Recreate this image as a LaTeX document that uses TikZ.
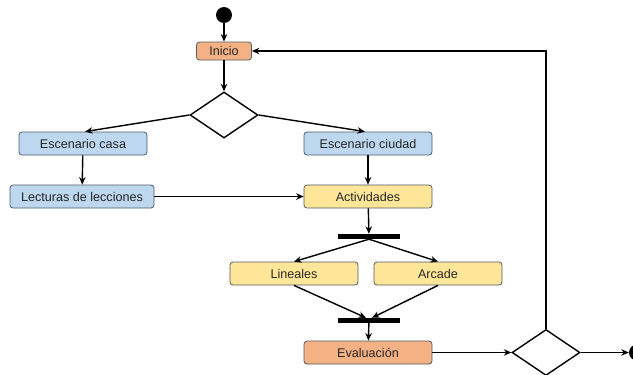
\documentclass[tikz,border=0pt]{standalone}
\usepackage{fontspec}
\setmainfont{Liberation Sans}
\usetikzlibrary{positioning,arrows.meta,shapes.geometric,calc}
\definecolor{azul}{HTML}{BDD7EE}
\definecolor{amarillo}{HTML}{FFE699}
\definecolor{naranja}{HTML}{F4B183}
\definecolor{borde}{HTML}{4F5B66}
\definecolor{texto}{HTML}{262626}

\begin{document}
\begin{tikzpicture}[
			x=1pt, y=-1pt,
			>={Stealth[length=7.5pt,width=6.5pt]},
			caja/.style={rectangle, rounded corners=3pt, draw=borde, line width=0.8pt, minimum width=128pt, minimum height=23pt, text=texto, font=\fontsize{12.6}{14}\selectfont},
			casa/.style={caja, fill=azul},
			act/.style={caja, fill=amarillo},
			eval/.style={caja, fill=naranja},
			decision/.style={diamond, draw, line width=1.4pt, minimum width=68pt, minimum height=46pt, inner sep=0pt},
			barra/.style={rectangle, fill=black, minimum width=62pt, minimum height=5pt, inner sep=0pt},
			punto/.style={circle, fill=black, minimum size=16pt, inner sep=0pt},
			flecha/.style={->, line width=1.4pt}
		]
		\useasboundingbox (0,0) rectangle (633,375);
		% Nodes
		\node[punto] (inicio0) at (224,15) {};
		\node[eval, minimum width=55pt, minimum height=18pt] (inicio) at (224,51) {Inicio};
		\node[decision] (d1) at (224,115) {};
		\node[casa] (casa) at (83,143.5) {Escenario casa};
		\node[casa] (ciudad) at (368,143.5) {Escenario ciudad};
		\node[casa, minimum width=144pt] (lecturas) at (82,196.5) {Lecturas de lecciones};
		\node[act] (actividades) at (368,196.5) {Actividades};
		\node[barra] (b1) at (369,236.5) {};
		\node[act] (lineales) at (294,273.5) {Lineales};
		\node[act] (arcade) at (438,273.5) {Arcade};
		\node[barra] (b2) at (369,320.5) {};
		\node[eval] (evaluacion) at (368,352.5) {Evaluación};
		\node[decision] (d2) at (546,352.5) {};
		\node[punto] (fin) at (637,352.5) {};

		% Arrows
		\draw[flecha] (inicio0) -- (inicio);
		\draw[flecha] (inicio) -- (d1);
		\draw[flecha] (d1.west) -- ([xshift=2pt]casa.north);
		\draw[flecha] (d1.east) -- ([xshift=-3pt]ciudad.north);
		\draw[flecha] (casa) -- (lecturas);
		\draw[flecha] (ciudad) -- (actividades);
		\draw[flecha] (lecturas) -- (actividades);
		\draw[flecha] (actividades) -- (b1);
		\draw[flecha] (b1.south) -- (lineales.north);
		\draw[flecha] (b1.south) -- (arcade.north);
		\draw[flecha] (lineales.south) -- ([xshift=-3pt]b2.north);
		\draw[flecha] (arcade.south) -- ([xshift=3pt]b2.north);
		\draw[flecha] (b2) -- (evaluacion);
		\draw[flecha] (evaluacion) -- (d2);
		\draw[flecha] (d2) -- (fin);
		\draw[flecha] (d2.north) |- (inicio.east);
	\end{tikzpicture}
\end{document}
